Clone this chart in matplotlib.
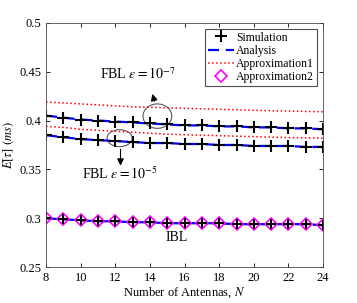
import matplotlib
matplotlib.use("Agg")
import matplotlib.pyplot as plt
from matplotlib.patches import Ellipse
import numpy as np

plt.rcParams["font.family"] = ["Liberation Serif", "DejaVu Serif"]
plt.rcParams["mathtext.fontset"] = "stix"

N = np.arange(8, 25)

# FBL eps = 1e-7
sim_e7 = [0.405, 0.403, 0.401, 0.400, 0.399, 0.398, 0.397, 0.396, 0.395,
          0.395, 0.394, 0.394, 0.393, 0.393, 0.392, 0.392, 0.391]
apx1_e7 = [0.419, 0.418, 0.417, 0.416, 0.415, 0.414, 0.4135, 0.413, 0.4125,
           0.412, 0.4115, 0.411, 0.4105, 0.410, 0.4097, 0.4093, 0.409]
# FBL eps = 1e-5
sim_e5 = [0.385, 0.383, 0.381, 0.380, 0.379, 0.378, 0.377, 0.377, 0.376,
          0.376, 0.375, 0.375, 0.374, 0.374, 0.374, 0.373, 0.373]
apx1_e5 = [0.394, 0.393, 0.391, 0.390, 0.389, 0.388, 0.387, 0.386, 0.3855,
           0.385, 0.3845, 0.384, 0.3835, 0.383, 0.3826, 0.3823, 0.382]
# IBL
sim_ibl = [0.300, 0.299, 0.298, 0.297, 0.297, 0.296, 0.296, 0.295, 0.295,
           0.295, 0.295, 0.294, 0.294, 0.294, 0.294, 0.294, 0.293]

DASH = (5, 3)

fig, ax = plt.subplots(figsize=(3.57, 3.03), dpi=100)
fig.subplots_adjust(left=0.129, right=0.905, top=0.925, bottom=0.118)

for sim, apx in [(sim_e7, apx1_e7), (sim_e5, apx1_e5)]:
    ax.plot(N, apx, ":", color="red", lw=1.1)
    ax.plot(N, sim, "--", color="blue", lw=1.6, dashes=DASH)
    ax.plot(N, sim, "+", color="black", ms=8, mew=1.5, ls="none")

ax.plot(N, sim_ibl, ":", color="red", lw=1.1)
ax.plot(N, sim_ibl, "--", color="blue", lw=1.6, dashes=DASH)
ax.plot(N, sim_ibl, "D", color="magenta", mfc="none", ms=6.5, mew=1.2, ls="none")
ax.plot(N, sim_ibl, "+", color="black", ms=7, mew=1.5, ls="none")

# legend proxies
h1, = ax.plot([], [], "+", color="black", ms=8, mew=1.5, label="Simulation")
h2, = ax.plot([], [], "--", color="blue", lw=1.6, dashes=DASH, label="Analysis")
h3, = ax.plot([], [], ":", color="red", lw=1.1, label="Approximation1")
h4, = ax.plot([], [], "D", color="magenta", mfc="none", ms=6.5, mew=1.2, label="Approximation2")
leg = ax.legend(handles=[h1, h2, h3, h4], loc="upper right", fontsize=8.5,
                fancybox=False, edgecolor="0.3", framealpha=1,
                borderpad=0.25, labelspacing=0.1, handlelength=2.2, handletextpad=0.2)
leg.get_frame().set_linewidth(0.8)

# annotations
ax.add_patch(Ellipse((14.43, 0.4045), 1.66, 0.025, fill=False, ec="0.35", lw=0.8))
ax.add_patch(Ellipse((12.25, 0.382), 1.45, 0.0173, fill=False, ec="0.35", lw=0.8))
ax.annotate("", xy=(14.1, 0.430), xytext=(14.3, 0.417),
            arrowprops=dict(arrowstyle="-|>", color="black", lw=0.8, mutation_scale=10))
ax.annotate("", xy=(12.3, 0.351), xytext=(12.3, 0.3733),
            arrowprops=dict(arrowstyle="-|>", color="black", lw=0.8, mutation_scale=10))
ax.text(11.1, 0.442, r"FBL $\epsilon=10^{-7}$", fontsize=10, va="baseline", ha="left")
ax.text(10.1, 0.340, r"FBL $\epsilon=10^{-5}$", fontsize=10, va="baseline", ha="left")
ax.text(14.9, 0.2765, "IBL", fontsize=10, va="baseline", ha="left")

ax.set_xlim(8, 24)
ax.set_ylim(0.25, 0.5)
ax.set_xticks(range(8, 25, 2))
ax.set_yticks([0.25, 0.3, 0.35, 0.4, 0.45, 0.5])
ax.set_yticklabels(["0.25", "0.3", "0.35", "0.4", "0.45", "0.5"])
ax.tick_params(direction="in", labelsize=9, top=True, right=True, length=3, width=0.6)
for s in ax.spines.values():
    s.set_linewidth(0.6)
    s.set_color("0.3")
ax.set_xlabel(r"Number of Antennas, $N$", fontsize=9, labelpad=1)
ax.set_ylabel(r"$E[\tau]$ $(ms)$", fontsize=9, labelpad=2)

fig.savefig("out.png", dpi=100)
